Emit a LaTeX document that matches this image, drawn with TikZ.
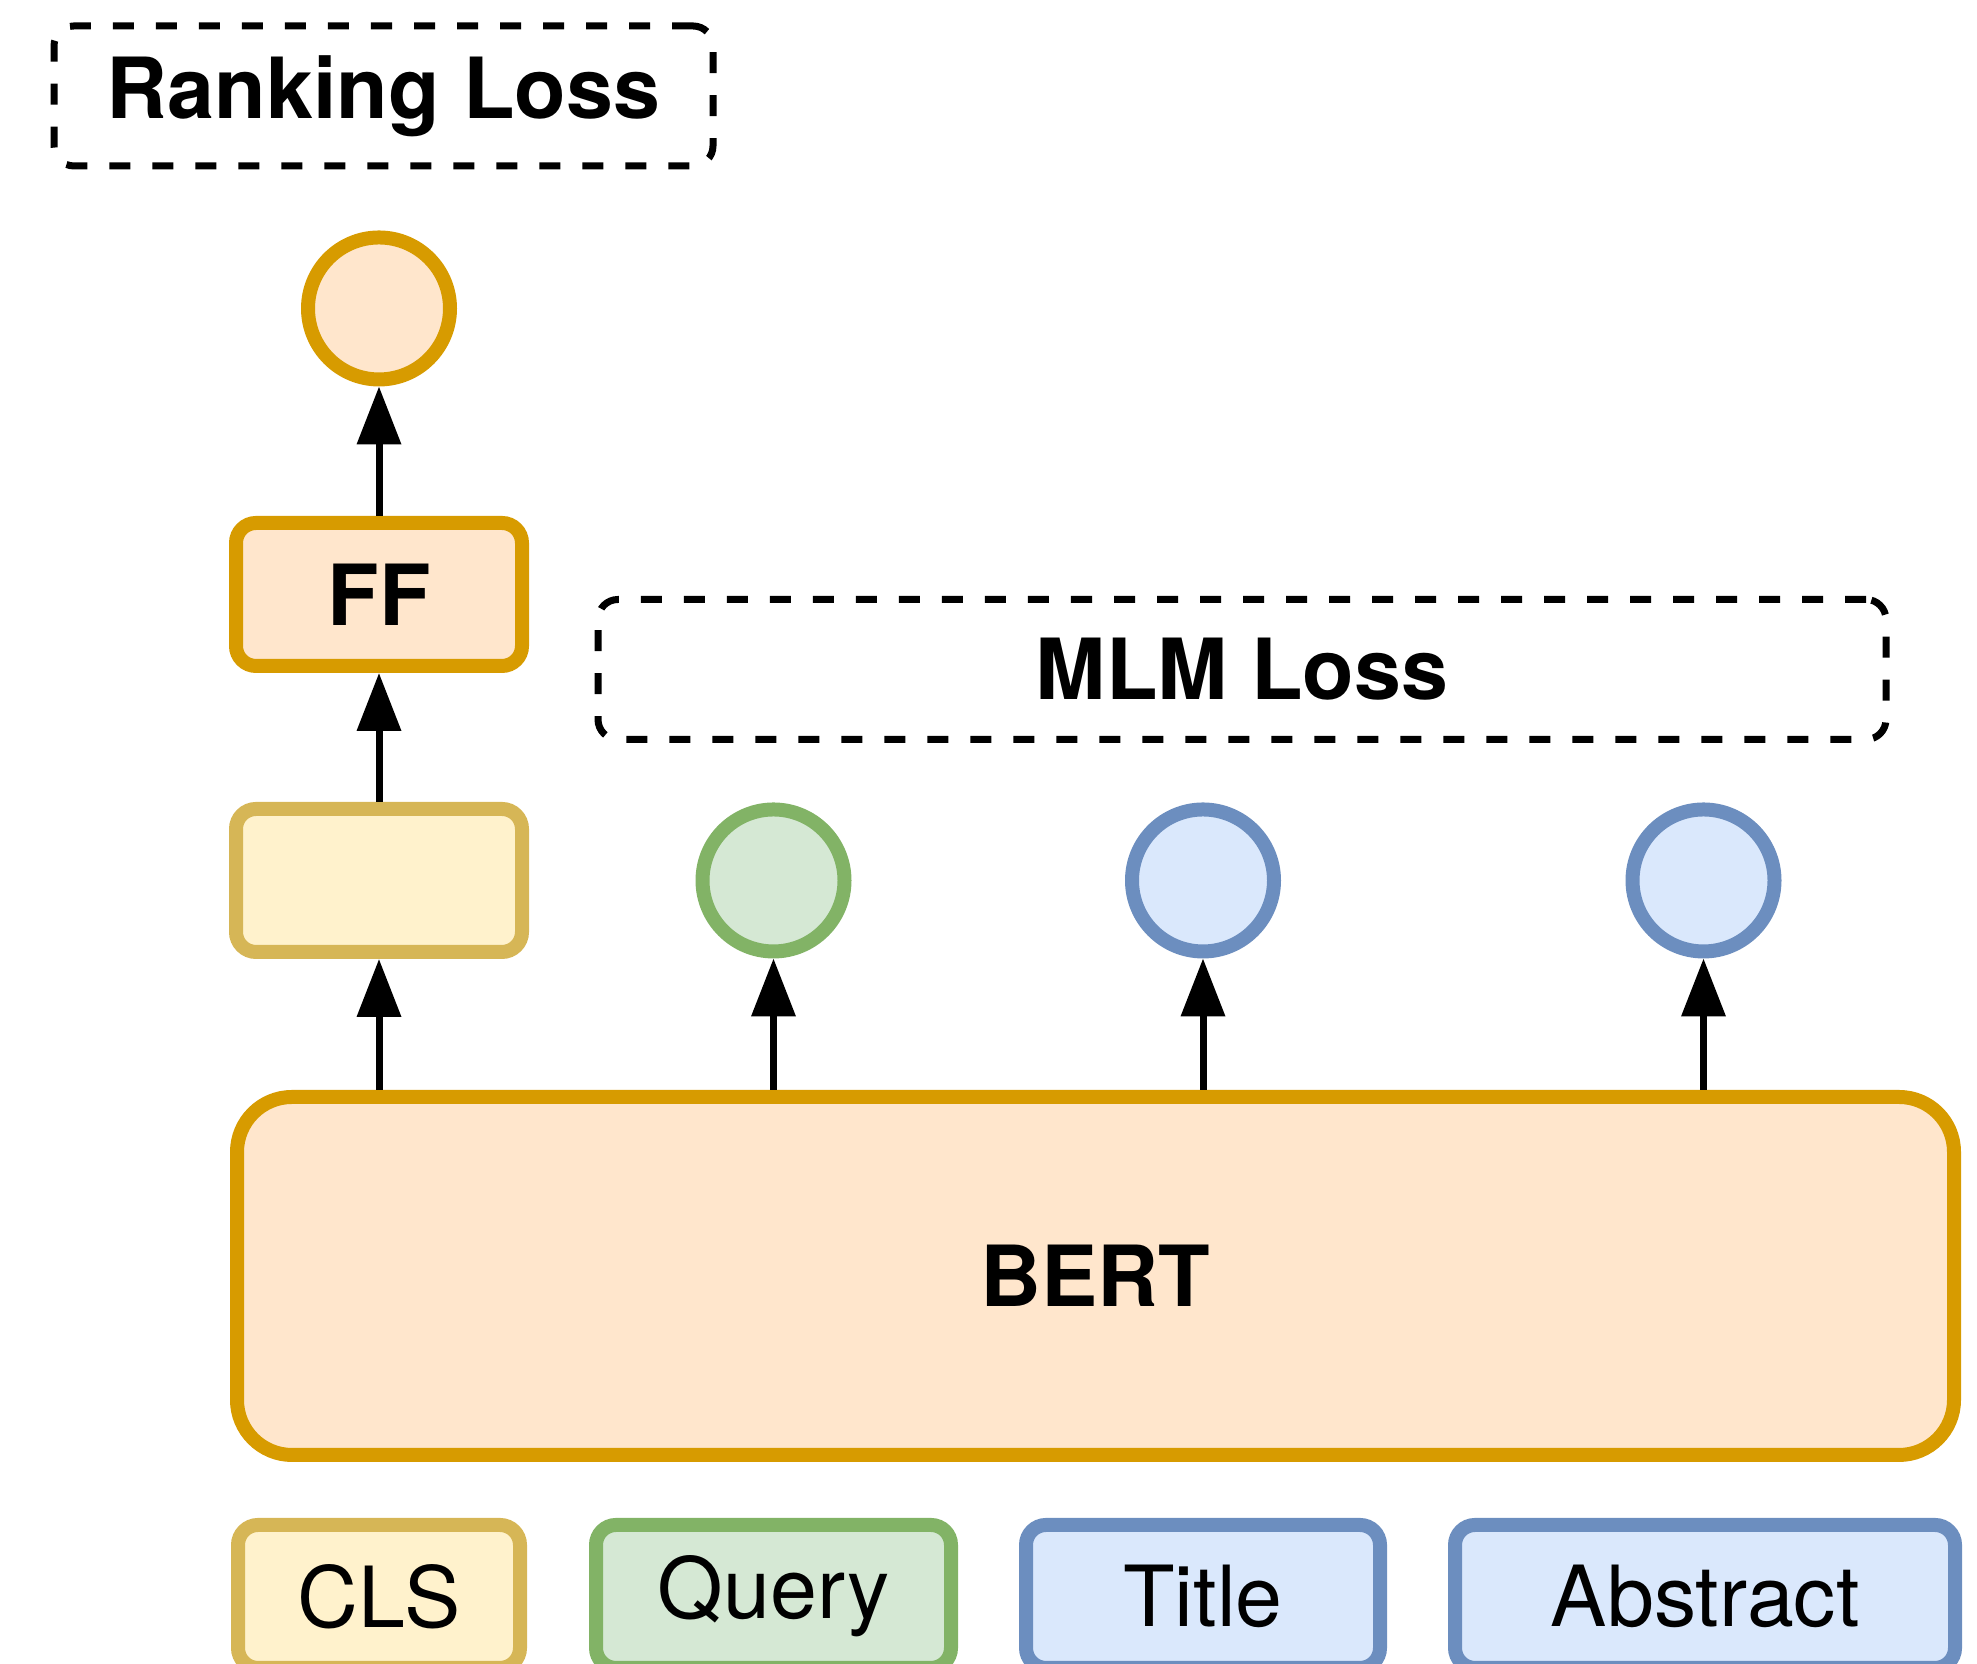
\documentclass[tikz,border=0pt]{standalone}
\usepackage{fontspec}
\setmainfont{TeX Gyre Heros}
\usetikzlibrary{arrows.meta}
\definecolor{ornline}{HTML}{D79B00}
\definecolor{ornfill}{HTML}{FFE6CC}
\definecolor{ylwline}{HTML}{D6B656}
\definecolor{ylwfill}{HTML}{FFF2CC}
\definecolor{grnline}{HTML}{82B366}
\definecolor{grnfill}{HTML}{D5E8D4}
\definecolor{bluline}{HTML}{6C8EBF}
\definecolor{blufill}{HTML}{DAE8FC}
\begin{document}
\begin{tikzpicture}
\tikzset{
  orn/.style={draw=ornline,fill=ornfill},
  ylw/.style={draw=ylwline,fill=ylwfill},
  grn/.style={draw=grnline,fill=grnfill},
  blu/.style={draw=bluline,fill=blufill},
  box/.style={line width=0.14cm,rounded corners=0.2cm,minimum width=#1,minimum height=1.43cm,inner sep=0pt,font=\fontsize{24}{29}\selectfont},
  dot/.style={circle,line width=0.14cm,minimum size=1.42cm,inner sep=0pt},
  loss/.style={draw,dash pattern=on 0.21cm off 0.22cm,line width=0.07cm,rounded corners=0.2cm,minimum width=#1,minimum height=1.4cm,inner sep=0pt,font=\fontsize{24}{29}\selectfont\bfseries},
  arr/.style={-{Triangle[length=0.58cm,width=0.43cm]},line width=0.07cm}
}
\useasboundingbox (0,0) rectangle (19.77,16.64);
% losses
\node [loss=6.59cm] (rank) at (3.835,15.68) {Ranking Loss};
\node [loss=12.88cm] (mlm) at (12.42,9.945) {MLM Loss};
% ranking head
\node [dot,orn] (score) at (3.79,13.555) {};
\node [box=2.86cm,orn,font=\fontsize{24}{29}\selectfont\bfseries] (ff) at (3.79,10.695) {FF};
% encoder outputs
\node [box=2.86cm,ylw] (hcls) at (3.79,7.835) {};
\node [dot,grn] (hq) at (7.735,7.835) {};
\node [dot,blu] (ht) at (12.03,7.835) {};
\node [dot,blu] (ha) at (17.035,7.835) {};
\node [box=17.17cm,orn,rounded corners=0.55cm,minimum height=3.58cm,font=\fontsize{24}{29}\selectfont\bfseries] (bert) at (10.955,3.88) {BERT};
% inputs
\node [box=2.82cm,ylw] (cls) at (3.79,0.675) {CLS};
\node [box=3.55cm,grn] (query) at (7.735,0.675) {Query};
\node [box=3.54cm,blu] (title) at (12.03,0.675) {Title};
\node [box=5.0cm,blu] (abstract) at (17.05,0.675) {Abstract};
% arrows
\foreach \n in {hcls,hq,ht,ha}
  \draw [arr] (bert.north -| \n) -- (\n);
\draw [arr] (hcls) -- (ff);
\draw [arr] (ff) -- (score);
\end{tikzpicture}
\end{document}
